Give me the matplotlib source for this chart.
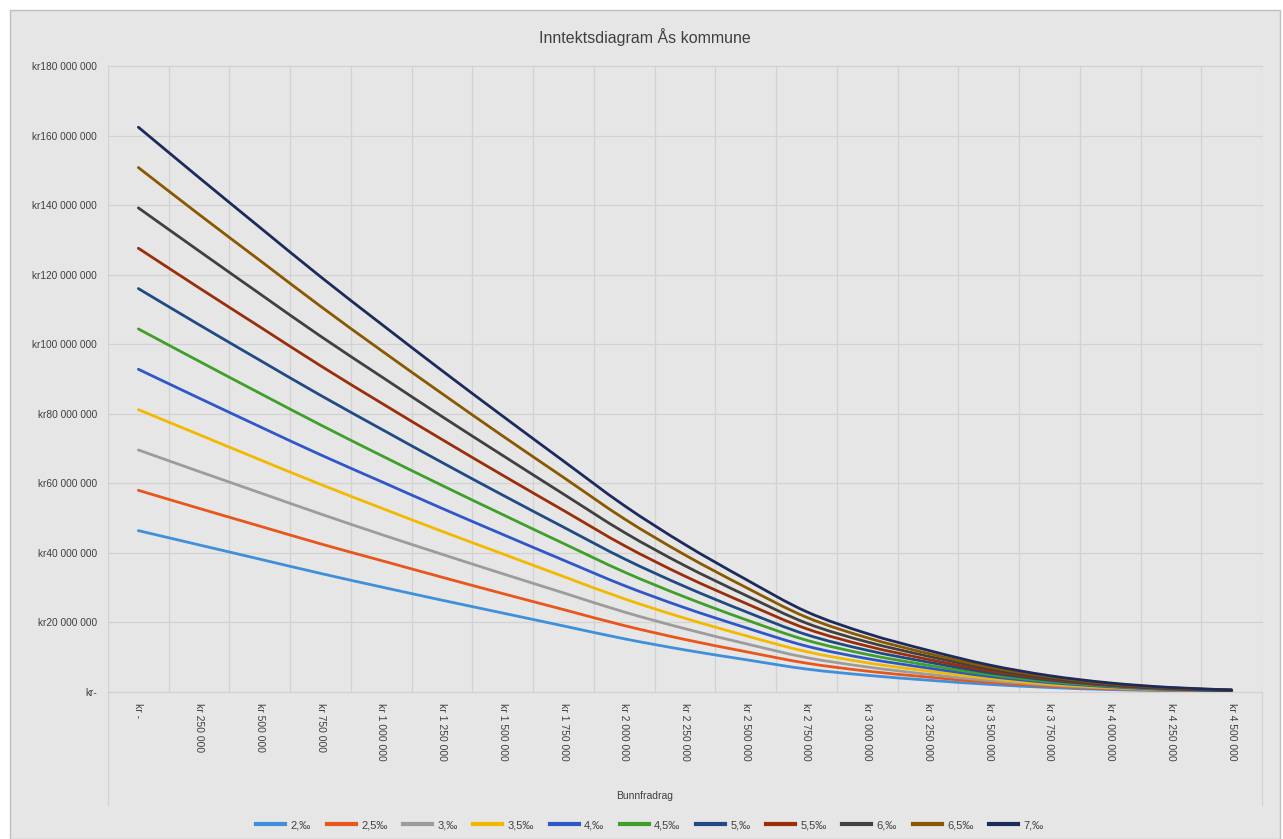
import matplotlib
matplotlib.use("Agg")
import matplotlib.pyplot as plt
from matplotlib.patches import Rectangle, PathPatch
from matplotlib.lines import Line2D
from matplotlib.path import Path

plt.rcParams['font.family'] = ['Liberation Sans Narrow', 'Liberation Sans', 'DejaVu Sans']

# Data (values in kr, in millions)
categories = ["kr -", "kr 250 000", "kr 500 000", "kr 750 000", "kr 1 000 000",
              "kr 1 250 000", "kr 1 500 000", "kr 1 750 000", "kr 2 000 000",
              "kr 2 250 000", "kr 2 500 000", "kr 2 750 000", "kr 3 000 000",
              "kr 3 250 000", "kr 3 500 000", "kr 3 750 000", "kr 4 000 000",
              "kr 4 250 000", "kr 4 500 000"]

s_2_0 = [46.4, 42.3, 38.2, 34.1, 30.2, 26.4, 22.7, 19.0, 15.3, 12.1, 9.3, 6.6, 4.8, 3.4, 2.2, 1.3, 0.7, 0.4, 0.2]
s_2_5 = [58.0, 52.8, 47.7, 42.6, 37.8, 33.0, 28.3, 23.7, 19.1, 15.1, 11.6, 8.3, 6.0, 4.3, 2.8, 1.7, 0.9, 0.5, 0.2]
s_3_0 = [69.6, 63.4, 57.3, 51.2, 45.3, 39.6, 34.0, 28.5, 23.0, 18.2, 13.9, 9.9, 7.2, 5.1, 3.3, 2.0, 1.1, 0.6, 0.3]
s_3_5 = [81.2, 74.0, 66.8, 59.7, 52.9, 46.2, 39.7, 33.2, 26.8, 21.2, 16.2, 11.6, 8.4, 6.0, 3.9, 2.3, 1.3, 0.7, 0.3]
s_4_0 = [92.8, 84.5, 76.3, 68.2, 60.5, 52.8, 45.3, 37.9, 30.6, 24.2, 18.5, 13.2, 9.6, 6.9, 4.5, 2.7, 1.5, 0.7, 0.3]
s_4_5 = [104.4, 95.1, 85.9, 76.8, 68.0, 59.4, 51.0, 42.7, 34.5, 27.3, 20.8, 14.9, 10.8, 7.7, 5.0, 3.0, 1.7, 0.8, 0.4]
s_5_0 = [116.0, 105.6, 95.4, 85.3, 75.6, 66.0, 56.6, 47.4, 38.3, 30.3, 23.1, 16.5, 12.0, 8.6, 5.6, 3.4, 1.9, 0.9, 0.4]
s_5_5 = [127.6, 116.2, 105.0, 93.8, 83.1, 72.6, 62.3, 52.2, 42.1, 33.3, 25.5, 18.2, 13.2, 9.4, 6.1, 3.7, 2.0, 1.0, 0.5]
s_6_0 = [139.2, 126.8, 114.5, 102.3, 90.7, 79.2, 68.0, 56.9, 45.9, 36.3, 27.8, 19.8, 14.4, 10.3, 6.7, 4.0, 2.2, 1.1, 0.5]
s_6_5 = [150.8, 137.3, 124.1, 110.9, 98.2, 85.8, 73.6, 61.7, 49.8, 39.4, 30.1, 21.5, 15.6, 11.1, 7.2, 4.4, 2.4, 1.2, 0.6]
s_7_0 = [162.4, 147.9, 133.6, 119.4, 105.8, 92.4, 79.3, 66.4, 53.6, 42.4, 32.4, 23.1, 16.8, 12.0, 7.8, 4.7, 2.6, 1.3, 0.6]

series_labels = ["2,\u2030", "2,5\u2030", "3,\u2030", "3,5\u2030", "4,\u2030", "4,5\u2030",
                 "5,\u2030", "5,5\u2030", "6,\u2030", "6,5\u2030", "7,\u2030"]
series_values = [s_2_0, s_2_5, s_3_0, s_3_5, s_4_0, s_4_5, s_5_0, s_5_5, s_6_0, s_6_5, s_7_0]
colors = ["#3f8fdc", "#e8561c", "#9c9c9c", "#f2b900", "#2f57c8", "#3f9f2a",
          "#1f4a82", "#9a2e0a", "#404040", "#8a5800", "#1c2a5c"]

y_ticks = [0, 20, 40, 60, 80, 100, 120, 140, 160, 180]
y_tick_labels = ["kr-", "kr20 000 000", "kr40 000 000", "kr60 000 000", "kr80 000 000",
                 "kr100 000 000", "kr120 000 000", "kr140 000 000", "kr160 000 000",
                 "kr180 000 000"]


def smooth_path(xs, ys):
    """Excel-like smoothed line: Catmull-Rom segments as cubic Bezier curves."""
    n = len(xs)
    verts = [(xs[0], ys[0])]
    codes = [Path.MOVETO]
    for i in range(n - 1):
        i0 = max(i - 1, 0)
        i3 = min(i + 2, n - 1)
        c1 = (xs[i] + (xs[i + 1] - xs[i0]) / 6.0, ys[i] + (ys[i + 1] - ys[i0]) / 6.0)
        c2 = (xs[i + 1] - (xs[i3] - xs[i]) / 6.0, ys[i + 1] - (ys[i3] - ys[i]) / 6.0)
        verts += [c1, c2, (xs[i + 1], ys[i + 1])]
        codes += [Path.CURVE4, Path.CURVE4, Path.CURVE4]
    return Path(verts, codes)


W, H = 1283, 839
fig = plt.figure(figsize=(W / 100, H / 100), dpi=100)
fig.patch.set_facecolor("white")

bg = "#e6e6e6"
grid_c = "#d2d2d2"
text_c = "#404040"

# chart area
chart_bg = Rectangle((10 / W, 0), (1280 - 10) / W, (H - 10) / H,
                     transform=fig.transFigure, facecolor=bg,
                     edgecolor="#c0c0c0", linewidth=1.0, zorder=-10)
fig.add_artist(chart_bg)

left, right, top, bottom = 108, 1262, 66, 692
ax = fig.add_axes([left / W, 1 - bottom / H, (right - left) / W, (bottom - top) / H])
ax.set_zorder(2)
ax.set_facecolor(bg)

x = list(range(len(categories)))
handles = []
for vals, lab, c in zip(series_values, series_labels, colors):
    patch = PathPatch(smooth_path(x, vals), facecolor="none", edgecolor=c,
                      linewidth=2.0, capstyle="round", joinstyle="round", zorder=3)
    ax.add_patch(patch)
    handles.append(Line2D([], [], color=c, linewidth=3.0, label=lab))

ax.set_xlim(-0.5, len(categories) - 0.5)
ax.set_ylim(0, 180)
ax.set_yticks(y_ticks)
ax.set_yticklabels(y_tick_labels, fontsize=7.3, color=text_c)
ax.set_xticks(x)
ax.set_xticklabels(categories, rotation=-90, fontsize=7.5, color=text_c, va="top", ha="center")
ax.tick_params(axis="both", length=0)
ax.tick_params(axis="y", pad=8)
ax.tick_params(axis="x", pad=8)

for yv in y_ticks:
    ax.axhline(yv, color=grid_c, linewidth=0.9, zorder=1, clip_on=False)
for i in range(len(categories) + 1):
    ax.axvline(i - 0.5, color=grid_c, linewidth=0.9, zorder=1)
for s in ax.spines.values():
    s.set_visible(False)

# extension lines below the plot area around the tick label region
for xp in (left, right):
    fig.add_artist(Line2D([xp / W, xp / W], [1 - bottom / H, 1 - 805 / H],
                          color=grid_c, linewidth=0.9, transform=fig.transFigure))

fig.text(645 / W, 1 - 37 / H, "Inntektsdiagram \u00c5s kommune", ha="center", va="center",
         fontsize=11.5, color=text_c)
fig.text(645 / W, 1 - 796 / H, "Bunnfradrag", ha="center", va="center",
         fontsize=7.5, color=text_c)

leg = fig.legend(handles=handles, loc="center", bbox_to_anchor=(650 / W, 1 - 825 / H),
                 ncol=len(handles), frameon=False, fontsize=8, handlelength=2.6,
                 handletextpad=0.5, columnspacing=1.4, labelcolor=text_c)

fig.savefig("out.png", dpi=100, facecolor=fig.get_facecolor())
